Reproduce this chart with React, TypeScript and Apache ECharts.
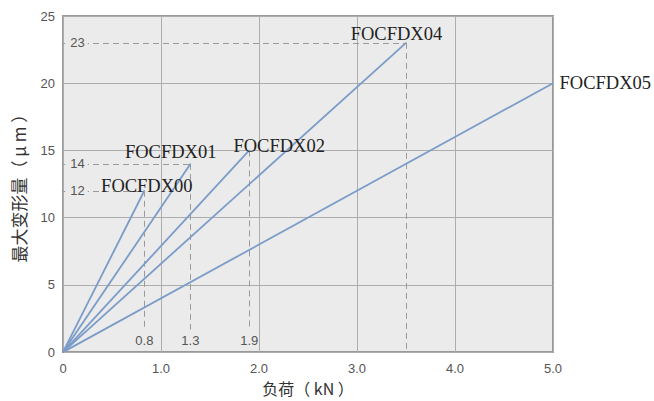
import React, { useEffect, useRef } from 'react';
import * as echarts from 'echarts';

// ---- data ----
const seriesNames = ['FOCFDX00', 'FOCFDX01', 'FOCFDX02', 'FOCFDX04', 'FOCFDX05'];
const endLoads = [0.83, 1.3, 1.9, 3.5, 5.0]; // kN
const endDeforms = [12, 14, 15, 23, 20]; // μm
const loadGuideLabels = ['0.8', '1.3', '1.9', '', ''];
const deformGuideLabels = ['12', '14', '', '23', ''];
const hasVerticalGuide = [true, true, true, true, false];
const hasHorizontalGuide = [true, true, false, true, false];

const xTicks = [0, 1, 2, 3, 4, 5];
const yTicks = [0, 5, 10, 15, 20, 25];

// ---- styles ----
const LINE_COLOR = '#7b9cc9';
const GUIDE_COLOR = '#9a9a9a';
const PLOT_BG = '#ebebeb';
const GRID_COLOR = '#adadad';
const TICK_COLOR = '#555';
const SANS = "'Liberation Sans', Arial, Helvetica, sans-serif";
const SERIF = "'Liberation Serif', 'Times New Roman', serif";
const CJK = "'Noto Sans CJK SC', 'Noto Sans', sans-serif";
const nameLabelOffsets: (number[] | null)[] = [[2.5, -4.8], [-19.7, -11.8], [30, -4.5], [-9.6, -9.2], null];

export default function App() {
  const ref = useRef<HTMLDivElement>(null);
  useEffect(() => {
    if (!ref.current) return;
    const chart = echarts.init(ref.current, undefined, { renderer: 'svg' });

    const series: any[] = seriesNames.map((name, i) => {
      const x = endLoads[i];
      const y = endDeforms[i];
      const off = nameLabelOffsets[i];
      const endLabel = off
        ? { show: true, position: 'inside', offset: off, formatter: name, color: '#222', fontSize: 18.5, fontFamily: SERIF }
        : { show: true, position: 'right', distance: 6, formatter: name, color: '#222', fontSize: 18.5, fontFamily: SERIF };
      const mlData: any[] = [];
      if (hasHorizontalGuide[i]) mlData.push([{ coord: [0, y] }, { coord: [x, y] }]);
      if (hasVerticalGuide[i]) mlData.push([{ coord: [x, y] }, { coord: [x, 0] }]);
      const mpData: any[] = [];
      if (deformGuideLabels[i]) {
        mpData.push({ coord: [0, y], value: y, label: { formatter: deformGuideLabels[i], offset: [13.5, -0.5], padding: [2, 3, 2, 5] } });
      }
      if (loadGuideLabels[i]) {
        mpData.push({ coord: [x, 0], value: x, label: { formatter: loadGuideLabels[i], offset: [0, -12], padding: [5, 0, 3, 0] } });
      }
      return {
        type: 'line',
        name,
        z: 3,
        symbol: 'circle',
        symbolSize: 1,
        showSymbol: true,
        showAllSymbol: true,
        itemStyle: { color: LINE_COLOR },
        lineStyle: { color: LINE_COLOR, width: 1.8 },
        label: { show: false },
        emphasis: { disabled: true },
        data: [
          { value: [0, 0], label: { show: false } },
          { value: [x, y], label: endLabel },
        ],
        markLine: {
          silent: true,
          z: 2,
          symbol: ['none', 'none'],
          label: { show: false },
          emphasis: { disabled: true },
          lineStyle: { color: GUIDE_COLOR, type: [6, 4], width: 1 },
          data: mlData,
        },
        markPoint: {
          silent: true,
          z: 4,
          symbol: 'circle',
          symbolSize: 1,
          itemStyle: { color: 'rgba(0,0,0,0)' },
          label: {
            show: true,
            position: 'inside',
            color: TICK_COLOR,
            fontSize: 13,
            fontFamily: SANS,
            backgroundColor: PLOT_BG,
          },
          data: mpData,
        },
      };
    });

    chart.setOption({
      animation: false,
      grid: {
        left: 63,
        right: 101,
        top: 16,
        bottom: 45,
        show: true,
        backgroundColor: PLOT_BG,
        borderColor: '#999',
        borderWidth: 2,
        containLabel: false,
      },
      xAxis: {
        type: 'value',
        min: xTicks[0],
        max: xTicks[xTicks.length - 1],
        interval: 1,
        name: '负荷（ kN ）',
        nameLocation: 'middle',
        nameGap: 26,
        nameTextStyle: { fontFamily: CJK, fontSize: 16, color: '#333' },
        axisLine: { show: false },
        axisTick: { show: false },
        axisLabel: {
          margin: 10,
          color: TICK_COLOR,
          fontSize: 13,
          fontFamily: SANS,
          formatter: (v: number) => (v === 0 ? '0' : v.toFixed(1)),
        },
        splitLine: { show: true, lineStyle: { color: GRID_COLOR, width: 1 } },
      },
      yAxis: {
        type: 'value',
        min: yTicks[0],
        max: yTicks[yTicks.length - 1],
        interval: 5,
        name: '最大变形量（ μ m ）',
        nameLocation: 'middle',
        nameGap: 36,
        nameRotate: 90,
        nameTextStyle: { fontFamily: CJK, fontSize: 17, color: '#333' },
        axisLine: { show: false },
        axisTick: { show: false },
        axisLabel: { margin: 8, color: TICK_COLOR, fontSize: 13, fontFamily: SANS },
        splitLine: { show: true, lineStyle: { color: GRID_COLOR, width: 1 } },
      },
      series,
    });
    return () => chart.dispose();
  }, []);
  return <div ref={ref} style={{ position: 'absolute', left: 0, top: 0, width: 654, height: 401 }} />;
}
